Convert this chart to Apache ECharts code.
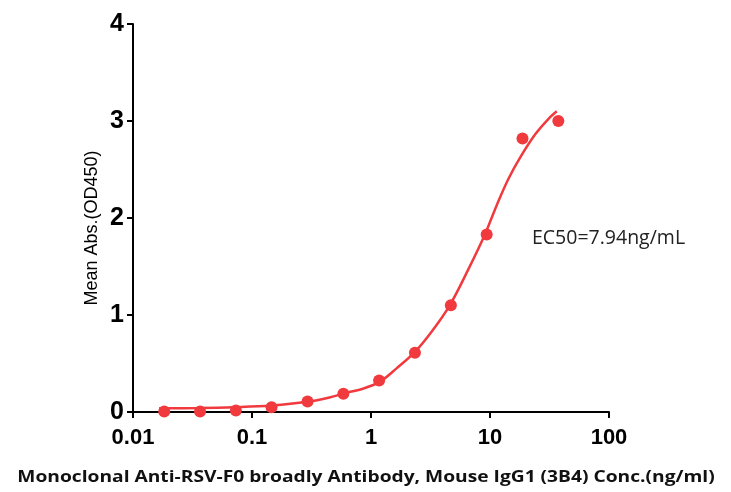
<!DOCTYPE html>
<html>
<head>
<meta charset="utf-8">
<script src="https://cdn.jsdelivr.net/npm/echarts@6/dist/echarts.min.js"></script>
<style>
html,body{margin:0;padding:0;background:#fff;}
#chart{width:731px;height:492px;}
</style>
</head>
<body>
<div id="chart"></div>
<script>
// Measured points (concentration ng/ml, mean OD450)
var concentrations = [0.0183, 0.0366, 0.0732, 0.146, 0.293, 0.586, 1.17, 2.34, 4.69, 9.38, 18.75, 37.5];
var meanAbs = [0.005, 0.005, 0.015, 0.05, 0.108, 0.188, 0.325, 0.61, 1.10, 1.83, 2.82, 3.00];
// Fitted curve
var curveX = [0.0166, 0.036, 0.0723, 0.1455, 0.292, 0.448, 0.619, 0.855, 1.18, 1.64, 2.33, 3.24, 4.59, 6.51, 9.06, 11.37, 14.23, 17.85, 23.9, 30.9, 36.4];
var curveY = [0.039, 0.041, 0.05, 0.067, 0.105, 0.15, 0.198, 0.24, 0.31, 0.45, 0.617, 0.83, 1.10, 1.46, 1.83, 2.13, 2.40, 2.62, 2.86, 3.02, 3.10];
var xTickLabels = ['0.01', '0.1', '1', '10', '100'];
var yTickLabels = ['0', '1', '2', '3', '4'];
var xTitle = 'Monoclonal Anti-RSV-F0 broadly Antibody, Mouse IgG1 (3B4) Conc.(ng/ml)';
var yTitle = 'Mean Abs.(OD450)';
var ec50Text = 'EC50=7.94ng/mL';

var red = '#f03a3d';
var chart = echarts.init(document.getElementById('chart'), null, {renderer: 'canvas'});
var pts = concentrations.map(function (c, i) { return [c, meanAbs[i]]; });
var curve = curveX.map(function (c, i) { return [c, curveY[i]]; });

chart.setOption({
  animation: false,
  backgroundColor: '#fff',
  grid: {left: 133, right: 122, top: 24, bottom: 80, containLabel: false},
  xAxis: {
    type: 'log', logBase: 10, min: 0.01, max: 100,
    axisLine: {show: true, lineStyle: {color: '#000', width: 2}},
    axisTick: {show: true, length: 6, lineStyle: {color: '#000', width: 2}},
    minorTick: {show: false},
    splitLine: {show: false},
    axisLabel: {
      color: '#000', fontSize: 22, fontWeight: 'bold', fontFamily: 'Liberation Sans, Arial, sans-serif', margin: 15,
      formatter: function (v) {
        var k = Math.round(Math.log10(v));
        return xTickLabels[k + 2];
      }
    }
  },
  yAxis: {
    type: 'value', min: 0, max: 4, interval: 1,
    axisLine: {show: true, lineStyle: {color: '#000', width: 2}},
    axisTick: {show: true, length: 6, lineStyle: {color: '#000', width: 2}},
    splitLine: {show: false},
    axisLabel: {
      color: '#000', fontSize: 25, fontWeight: 'bold', fontFamily: 'Liberation Sans, Arial, sans-serif', margin: 9,
      formatter: function (v) { return yTickLabels[Math.round(v)]; }
    }
  },
  series: [
    {
      type: 'line', data: curve, smooth: 0.35, showSymbol: false, symbol: 'none',
      lineStyle: {color: red, width: 2.5}, z: 2
    },
    {
      type: 'scatter', data: pts, symbol: 'circle', symbolSize: 12,
      itemStyle: {color: red, opacity: 1}, z: 3
    }
  ],
  graphic: [
    {
      type: 'text', x: 366, y: 477, scaleX: 1.2, originX: 0, originY: 0,
      style: {text: xTitle, fill: '#111', align: 'center', verticalAlign: 'middle', font: 'bold 16px "Open Sans", "Noto Sans", sans-serif'}
    },
    {
      type: 'text', x: 92, y: 228, rotation: Math.PI / 2,
      style: {text: yTitle, fill: '#000', align: 'center', verticalAlign: 'middle', font: '18px "Liberation Sans", Arial, sans-serif'}
    },
    {
      type: 'text', x: 532, y: 238,
      style: {text: ec50Text, fill: '#222', align: 'left', verticalAlign: 'middle', font: '19.5px "Open Sans", "Noto Sans", sans-serif'}
    }
  ]
});
</script>
</body>
</html>
